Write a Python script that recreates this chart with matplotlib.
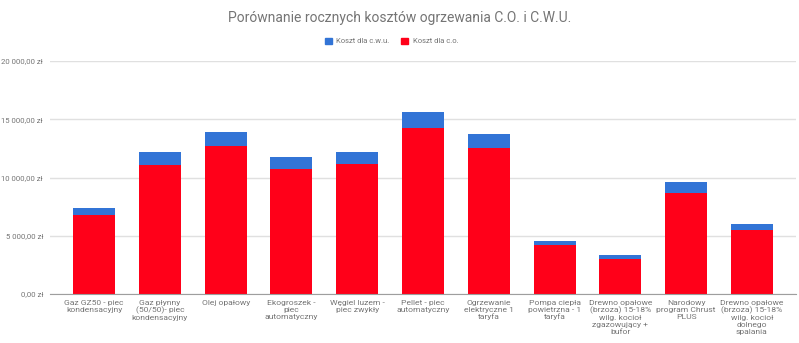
import matplotlib
matplotlib.use("Agg")
import matplotlib.pyplot as plt
from matplotlib.patches import Patch

plt.rcParams['font.family'] = ['Roboto', 'DejaVu Sans']

categories = [
    "Gaz GZ50 - piec\nkondensacyjny",
    "Gaz płynny\n(50/50)- piec\nkondensacyjny",
    "Olej opałowy",
    "Ekogroszek -\npiec\nautomatyczny",
    "Węgiel luzem -\npiec zwykły",
    "Pellet - piec\nautomatyczny",
    "Ogrzewanie\nelektryczne 1\ntaryfa",
    "Pompa ciepła\npowietrzna - 1\ntaryfa",
    "Drewno opałowe\n(brzoza) 15-18%\nwilg. kocioł\nzgazowujący +\nbufor",
    "Narodowy\nprogram Chrust\nPLUS",
    "Drewno opałowe\n(brzoza) 15-18%\nwilg. kocioł\ndolnego\nspalania",
]
koszt_co = [6750, 11060, 12710, 10720, 11200, 14290, 12550, 4170, 3000, 8690, 5460]
koszt_cwu = [600, 1090, 1180, 1050, 1030, 1340, 1170, 370, 310, 910, 510]
y_ticks = [0, 5000, 10000, 15000, 20000]
y_labels = ["0,00 zł", "5 000,00 zł", "10 000,00 zł", "15 000,00 zł", "20 000,00 zł"]

RED = '#ff0019'
BLUE = '#3274d6'
TXT = '#757575'

fig = plt.figure(figsize=(7.99, 3.43), dpi=100)
ax = fig.add_axes([50 / 799, 49 / 343, 746 / 799, 233 / 343])

x = range(len(categories))
ax.bar(x, koszt_co, width=0.64, color=RED, zorder=3)
ax.bar(x, koszt_cwu, bottom=koszt_co, width=0.64, color=BLUE, zorder=3)

ax.set_xlim(-0.67, 10.67)
ax.set_ylim(0, 20000)
ax.set_yticks(y_ticks)
ax.set_yticklabels(y_labels)
ax.set_xticks(list(x))
ax.set_xticklabels(categories, linespacing=1.2)
ax.tick_params(axis='both', length=0, labelcolor=TXT)
ax.tick_params(axis='x', labelsize=6.1, pad=4)
ax.tick_params(axis='y', labelsize=5.6, pad=5)

ax.grid(axis='y', color='#e0e0e0', linewidth=1, zorder=0)
for s in ['top', 'right', 'left']:
    ax.spines[s].set_visible(False)
ax.spines['bottom'].set_color('#9e9e9e')
ax.spines['bottom'].set_zorder(4)

fig.text(0.5, 1 - 18 / 343, "Porównanie rocznych kosztów ogrzewania C.O. i C.W.U.",
         ha='center', va='center', fontsize=10, color=TXT)

handles = [Patch(color=BLUE, label='Koszt dla c.w.u.'),
           Patch(color=RED, label='Koszt dla c.o.')]
fig.legend(handles=handles, loc='center', bbox_to_anchor=(0.49, 1 - 41 / 343),
           ncol=2, frameon=False, fontsize=5.5, labelcolor=TXT,
           handlelength=0.9, handleheight=0.9, handletextpad=0.6, columnspacing=1.5)

fig.savefig('out.png', dpi=100)
